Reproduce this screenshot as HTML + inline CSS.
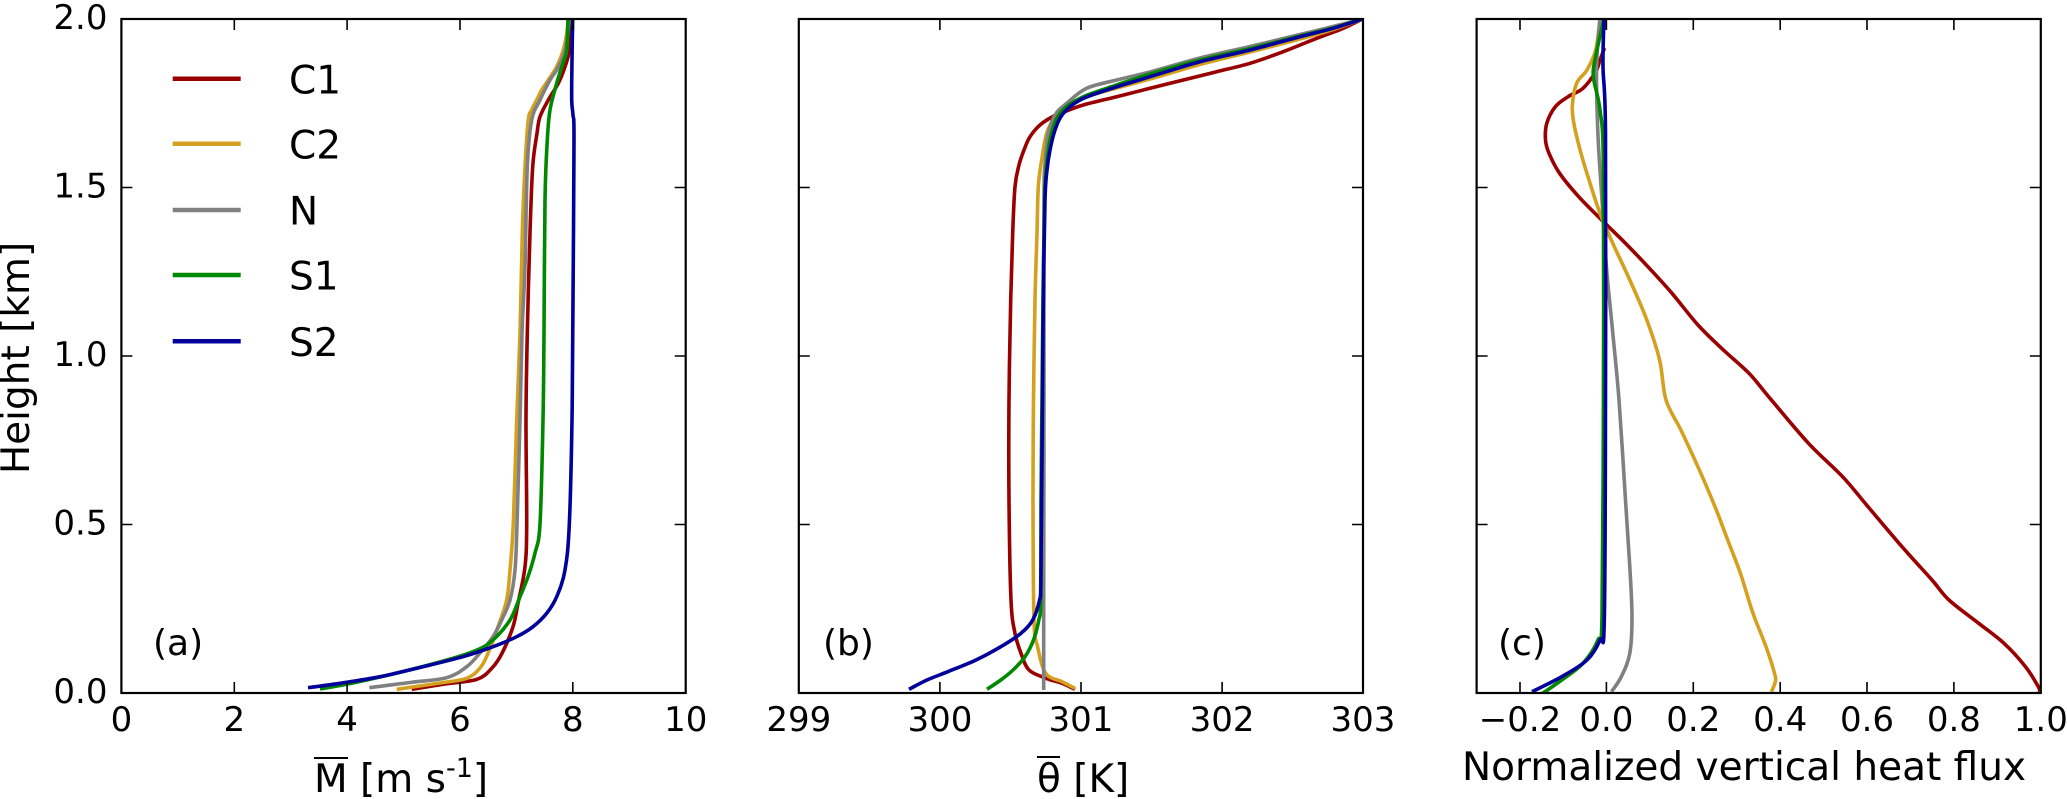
<!DOCTYPE html>
<html><head><meta charset="utf-8"><style>
html,body{margin:0;padding:0;background:#fff;}
svg{display:block;}
text{font-family:"DejaVu Sans","Liberation Sans",sans-serif;fill:#000;}
.l{fill:none;stroke-width:3.6;stroke-linejoin:round;stroke-linecap:butt;}
.c1{stroke:#990000}.c2{stroke:#d4a020}.n{stroke:#808080}.s1{stroke:#008800}.s2{stroke:#00009a}
.sp{fill:none;stroke:#000;stroke-width:2.2}
.tk{stroke:#000;stroke-width:1.6}
.t{font-size:34px}
</style></head><body>
<svg id="fig" width="2067" height="799" viewBox="0 0 2067 799" xmlns="http://www.w3.org/2000/svg">
<defs>
<clipPath id="ca"><rect x="121.4" y="19" width="564.3" height="674"/></clipPath>
<clipPath id="cb"><rect x="798.8" y="19" width="564.2" height="674"/></clipPath>
<clipPath id="cc"><rect x="1476.6" y="19" width="564.2" height="674"/></clipPath>
</defs>

<!-- Panel a curves -->
<g clip-path="url(#ca)">
<polyline class="l c1" points="411.7,689.3 445,684 477,679.3 492,668 502,653.3 513,626.7 518,603.3 525,566.7 526.7,524 526,420 527.3,333 530,233 532.7,166.7 537,133.3 540,116.7 548.3,100 558.3,83.3 565,66.7 569.3,50 570.7,19"/>
<polyline class="l c2" points="396.7,689.3 440,683 466.7,678.3 480,668 488,653.3 498,626.7 506.7,600 510,570 513.3,524 516.7,420 520,333 522.3,233 525,166.7 528.3,120 531.7,110 536.7,100 541.7,90 548.3,80 556.7,66.7 563.3,50 566.7,33.3 568.3,19"/>
<polyline class="l n" points="369.3,687.7 410,682.5 446.7,677.7 466.7,666.7 480,653 493,636.7 501.7,620 510,600 515,570 517,524 520,420 522,333 525,266.7 527.3,166.7 531.7,120 540,100 550,80 556.7,70 563,56.7 567,40 569,19"/>
<polyline class="l s1" points="320,689 353,683 397,673 447,660 477,650 493,640 510,620 520,596.7 528,576.7 535,553 540,524 543,420 544,333 545,200 547.3,140 550,110 556.7,83.3 563,63 566.7,50 568,19"/>
<polyline class="l s2" points="308,687.7 340,683.3 380,676.7 423,666.7 463,656.7 493,646.7 516.7,636.7 533,626.7 546.7,613.3 556.7,596.7 565,570 569.3,524.3 572,420 573,300 574,140 573,115 571.7,100 572,60 572.7,19"/>
</g>

<!-- Panel b curves -->
<g clip-path="url(#cb)">
<polyline class="l c1" points="1075,689.3 1062,683.3 1046,678.3 1029,670 1021,653.3 1015,633.3 1011,600 1009,500 1009,400 1010.7,300 1012.7,233 1015,186.7 1019,165 1024,150 1030,136.7 1040,125 1052,117 1064,112 1083.3,105 1116.7,96.7 1150,88.3 1183.3,80 1216.7,71.7 1250,63.3 1283.3,51.7 1316.7,38.3 1343.3,28.3 1362.3,19"/>
<polyline class="l c2" points="1075,688.3 1062,681.7 1045.7,673.3 1037.6,646.7 1034,620 1033,500 1033.5,400 1035,300 1037,233 1038.3,186.7 1041.7,160 1046.7,133.3 1055,116.7 1066,106 1085,97 1116.7,88 1150,79 1200,64.5 1250,52 1300,39 1333,29.5 1362.3,19"/>
<polyline class="l n" points="1043.7,690 1043.7,600 1044,400 1044,200 1045,165 1048,135 1055,115 1066.7,103.3 1086.7,88.3 1116.7,80 1150,72 1200,58 1250,46.5 1300,34.5 1333,26.5 1362.3,19"/>
<polyline class="l s1" points="987,689.3 1000.8,680 1013,670 1025,656.7 1033.5,640 1038.8,620 1040.8,600 1041,500 1042,400 1043,300 1044.5,200 1046.5,165 1050,140 1056,120 1066,107 1085,96 1116.7,85 1150,74 1200,60 1250,48.5 1300,36 1333,28 1362.3,19"/>
<polyline class="l s2" points="909,689.3 927,680 947.8,671.7 976,660 1000.8,646.7 1021,633.3 1032.7,620 1039.6,600 1040.8,583 1041.6,500 1042.5,400 1043.3,300 1045,200 1047,170 1050,150 1055,130 1063.3,113.3 1080,100 1106.7,90 1150,76.7 1200,61.7 1250,50 1300,36.7 1333.3,28.3 1362.3,19"/>
</g>

<!-- Panel c curves -->
<g clip-path="url(#cc)">
<polyline class="l c1" points="1604.5,48 1600,60 1595.7,71.7 1583,88.3 1568,96.7 1555.3,106.7 1546.8,123.3 1545.5,140 1549,153.3 1559.6,173.3 1578.7,196.7 1600,218.3 1625.5,243.3 1651,270 1672,293.3 1698,325 1723.4,350 1749,373.3 1770,398.3 1808.5,443.3 1842.6,476.7 1868,506.7 1902,546.7 1932,580 1949,600 1978.7,623.3 2004,643.3 2025.5,666.7 2038.3,686.7 2039.6,691.7"/>
<polyline class="l c2" points="1771.5,691.7 1775.3,681.7 1774.5,673.3 1766,646.7 1753,613.3 1740.4,573.3 1727.7,540 1715,506.7 1697.9,466.7 1680.9,430 1666,400 1659.6,360 1646.8,320 1629.8,280 1612.8,243.3 1600,213.3 1589,180 1581,153.3 1574.5,126.7 1572.3,106.7 1576.6,83.3 1587,70 1595.7,50 1600,19"/>
<polyline class="l n" points="1611.5,691.7 1621.3,676.7 1629.8,653.3 1632,616.7 1629.8,566.7 1625.5,500 1619,400 1612.8,333.3 1606.4,266.7 1602,200 1597.9,133.3 1596.6,66.7 1600,19"/>
<polyline class="l s1" points="1542.6,693.3 1561.7,680 1583,663.3 1597.9,640 1602,616.7 1603.4,400 1603.4,166.7 1600,110 1593.6,78.3 1594.9,60 1604,19"/>
<polyline class="l s2" points="1532,691.7 1561.7,676.7 1587,660 1600,640 1604.3,620 1605.5,400 1605.5,133.3 1603,66.7 1604,19"/>
</g>

<!-- Spines -->
<rect class="sp" x="121.4" y="19" width="564.3" height="674"/>
<rect class="sp" x="798.8" y="19" width="564.2" height="674"/>
<rect class="sp" x="1476.6" y="19" width="564.2" height="674"/>

<!-- Ticks -->
<g class="tk">
<path d="M234.3,693v-11M347.1,693v-11M460,693v-11M572.8,693v-11M234.3,19v11M347.1,19v11M460,19v11M572.8,19v11"/>
<path d="M121.4,524.5h11M121.4,356h11M121.4,187.5h11M685.7,524.5h-11M685.7,356h-11M685.7,187.5h-11"/>
<path d="M939.9,693v-11M1081,693v-11M1222.1,693v-11M939.9,19v11M1081,19v11M1222.1,19v11"/>
<path d="M798.8,524.5h11M798.8,356h11M798.8,187.5h11M1363,524.5h-11M1363,356h-11M1363,187.5h-11"/>
<path d="M1520,693v-11M1606.4,693v-11M1693.3,693v-11M1780.2,693v-11M1867,693v-11M1953.9,693v-11M1520,19v11M1606.4,19v11M1693.3,19v11M1780.2,19v11M1867,19v11M1953.9,19v11"/>
<path d="M1476.6,524.5h11M1476.6,356h11M1476.6,187.5h11M2040.8,524.5h-11M2040.8,356h-11M2040.8,187.5h-11"/>
</g>

<!-- Y tick labels -->
<g class="t" text-anchor="end">
<text x="107.5" y="703">0.0</text>
<text x="107.5" y="534.5">0.5</text>
<text x="107.5" y="366">1.0</text>
<text x="107.5" y="197.5">1.5</text>
<text x="107.5" y="29">2.0</text>
</g>

<!-- X tick labels -->
<g class="t" text-anchor="middle">
<text x="121.4" y="731">0</text>
<text x="234.3" y="731">2</text>
<text x="347.1" y="731">4</text>
<text x="460" y="731">6</text>
<text x="572.8" y="731">8</text>
<text x="685.7" y="731">10</text>
<text x="798.8" y="731">299</text>
<text x="939.9" y="731">300</text>
<text x="1081" y="731">301</text>
<text x="1222.1" y="731">302</text>
<text x="1363" y="731">303</text>
<text x="1520" y="731">−0.2</text>
<text x="1606.4" y="731">0.0</text>
<text x="1693.3" y="731">0.2</text>
<text x="1780.2" y="731">0.4</text>
<text x="1867" y="731">0.6</text>
<text x="1953.9" y="731">0.8</text>
<text x="2040.8" y="731">1.0</text>
</g>

<!-- Panel labels -->
<text x="153" y="655" font-size="36">(a)</text>
<text x="823" y="655" font-size="36">(b)</text>
<text x="1498" y="655" font-size="36">(c)</text>

<!-- Axis labels -->
<text x="29" y="358" font-size="39" text-anchor="middle" transform="rotate(-90 29 358)">Height [km]</text>
<text x="314" y="792" font-size="39">M [m s<tspan font-size="27" dy="-15">-1</tspan><tspan dy="15">]</tspan></text>
<line x1="314" y1="758" x2="348" y2="758" stroke="#000" stroke-width="2"/>
<text x="1037" y="792" font-size="39">θ [K]</text>
<line x1="1037" y1="757" x2="1060" y2="757" stroke="#000" stroke-width="2"/>
<text x="1462" y="780" font-size="39">Normalized vertical heat flux</text>

<!-- Legend -->
<g stroke-width="4.5">
<line x1="172.7" y1="78.7" x2="240.7" y2="78.7" stroke="#990000"/>
<line x1="172.7" y1="143.7" x2="240.7" y2="143.7" stroke="#d4a020"/>
<line x1="172.7" y1="210" x2="240.7" y2="210" stroke="#808080"/>
<line x1="172.7" y1="275" x2="240.7" y2="275" stroke="#008800"/>
<line x1="172.7" y1="341.3" x2="240.7" y2="341.3" stroke="#00009a"/>
</g>
<g font-size="39">
<text x="289" y="93.5">C1</text>
<text x="289" y="158.5">C2</text>
<text x="289" y="224.5">N</text>
<text x="289" y="289.5">S1</text>
<text x="289" y="356">S2</text>
</g>
</svg>
<script>
(function(){
  var NS="http://www.w3.org/2000/svg";
  var pls=document.querySelectorAll("#fig polyline.l");
  for(var k=0;k<pls.length;k++){
    var pl=pls[k];
    var raw=pl.getAttribute("points").trim().split(/\s+/);
    var p=[];
    for(var i=0;i<raw.length;i++){var xy=raw[i].split(",");p.push([parseFloat(xy[0]),parseFloat(xy[1])]);}
    if(p.length<3) continue;
    var d="M"+p[0][0]+","+p[0][1];
    for(var i=0;i<p.length-1;i++){
      var p0=p[i>0?i-1:i],p1=p[i],p2=p[i+1],p3=p[i+2<p.length?i+2:i+1];
      var c1x=p1[0]+(p2[0]-p0[0])/6,c1y=p1[1]+(p2[1]-p0[1])/6;
      var c2x=p2[0]-(p3[0]-p1[0])/6,c2y=p2[1]-(p3[1]-p1[1])/6;
      d+="C"+c1x.toFixed(2)+","+c1y.toFixed(2)+" "+c2x.toFixed(2)+","+c2y.toFixed(2)+" "+p2[0]+","+p2[1];
    }
    var path=document.createElementNS(NS,"path");
    path.setAttribute("d",d);
    path.setAttribute("class",pl.getAttribute("class"));
    pl.parentNode.replaceChild(path,pl);
  }
})();
</script>
</body></html>
